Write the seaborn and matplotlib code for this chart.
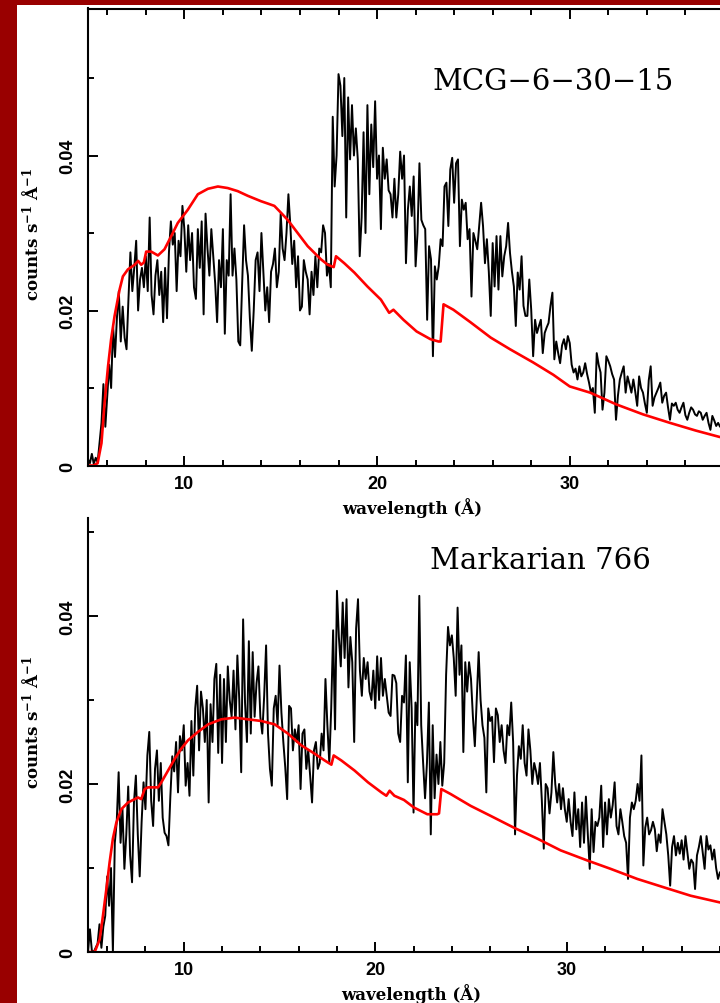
import numpy as np
import matplotlib
matplotlib.use("Agg")
import matplotlib.pyplot as plt
from matplotlib.patches import Rectangle
from matplotlib.ticker import MultipleLocator, FixedLocator, FuncFormatter
import seaborn as sns

# ---------------------------------------------------------------------------
# MCG-6-30-15: RGS count spectrum, 0.1 A bins starting at 5.0 A
# ---------------------------------------------------------------------------
mcg_start, mcg_bin = 5.0, 0.1
mcg_counts = [
    0.0008, 0.0003, 0.0015, 0.0002, 0.0010, 0.0004, 0.0030, 0.0055, 0.0105, 0.0050,
    0.0090, 0.0130, 0.0100, 0.0180, 0.0140, 0.0190, 0.0225, 0.0160, 0.0205, 0.0165,
    0.0150, 0.0215, 0.0275, 0.0225, 0.0255, 0.0290, 0.0200, 0.0240, 0.0255, 0.0230,
    0.0270, 0.0225, 0.0320, 0.0220, 0.0195, 0.0245, 0.0265, 0.0220, 0.0250, 0.0185,
    0.0255, 0.0190, 0.0275, 0.0315, 0.0285, 0.0300, 0.0225, 0.0290, 0.0270, 0.0335,
    0.0305, 0.0250, 0.0310, 0.0265, 0.0300, 0.0230, 0.0215, 0.0305, 0.0255, 0.0315,
    0.0195, 0.0325, 0.0280, 0.0245, 0.0305, 0.0270, 0.0235, 0.0185, 0.0265, 0.0230,
    0.0305, 0.0170, 0.0265, 0.0245, 0.0350, 0.0245, 0.0280, 0.0240, 0.0160, 0.0155,
    0.0235, 0.0310, 0.0265, 0.0245, 0.0190, 0.0148, 0.0200, 0.0265, 0.0275, 0.0225,
    0.0300, 0.0250, 0.0200, 0.0230, 0.0185, 0.0250, 0.0260, 0.0280, 0.0230, 0.0250,
    0.0325, 0.0280, 0.0265, 0.0300, 0.0350, 0.0310, 0.0260, 0.0290, 0.0230, 0.0270,
    0.0200, 0.0205, 0.0265, 0.0250, 0.0240, 0.0195, 0.0250, 0.0220, 0.0270, 0.0230,
    0.0280, 0.0275, 0.0310, 0.0300, 0.0245, 0.0260, 0.0230, 0.0450, 0.0360, 0.0400,
    0.0505, 0.0490, 0.0425, 0.0500, 0.0320, 0.0475, 0.0395, 0.0465, 0.0400, 0.0435,
    0.0395, 0.0270, 0.0320, 0.0430, 0.0300, 0.0465, 0.0350, 0.0440, 0.0385, 0.0470,
    0.0370, 0.0400, 0.0305, 0.0410, 0.0370, 0.0395, 0.0355, 0.0350, 0.0320, 0.0370,
    0.0320, 0.0350, 0.0405, 0.0370, 0.0400, 0.0261, 0.0330, 0.0360, 0.0322, 0.0373,
    0.0257, 0.0300, 0.0390, 0.0317, 0.0310, 0.0305, 0.0188, 0.0283, 0.0266, 0.0141,
    0.0257, 0.0240, 0.0257, 0.0292, 0.0283, 0.0360, 0.0365, 0.0309, 0.0382, 0.0397,
    0.0339, 0.0390, 0.0395, 0.0283, 0.0343, 0.0330, 0.0339, 0.0292, 0.0305, 0.0218,
    0.0300, 0.0290, 0.0279, 0.0309, 0.0339, 0.0309, 0.0261, 0.0292, 0.0250, 0.0193,
    0.0287, 0.0231, 0.0296, 0.0227, 0.0296, 0.0244, 0.0270, 0.0283, 0.0313, 0.0274,
    0.0250, 0.0231, 0.0180, 0.0249, 0.0227, 0.0270, 0.0206, 0.0193, 0.0193, 0.0240,
    0.0201, 0.0141, 0.0188, 0.0171, 0.0180, 0.0188, 0.0145, 0.0171, 0.0178, 0.0184,
    0.0206, 0.0223, 0.0137, 0.0160, 0.0145, 0.0132, 0.0155, 0.0163, 0.0150, 0.0167,
    0.0158, 0.0130, 0.0120, 0.0125, 0.0111, 0.0128, 0.0115, 0.0120, 0.0132, 0.0118,
    0.0107, 0.0094, 0.0100, 0.0068, 0.0145, 0.0130, 0.0120, 0.0072, 0.0094, 0.0141,
    0.0135, 0.0128, 0.0118, 0.0111, 0.0059, 0.0090, 0.0111, 0.0120, 0.0128, 0.0094,
    0.0115, 0.0105, 0.0094, 0.0111, 0.0095, 0.0077, 0.0115, 0.0100, 0.0094, 0.0080,
    0.0068, 0.0110, 0.0128, 0.0077, 0.0088, 0.0094, 0.0100, 0.0107, 0.0081, 0.0090,
    0.0094, 0.0075, 0.0059, 0.0080, 0.0077, 0.0081, 0.0072, 0.0068, 0.0075, 0.0081,
    0.0065, 0.0059, 0.0068, 0.0075, 0.0072, 0.0066, 0.0064, 0.0070, 0.0068, 0.0059,
    0.0064, 0.0068, 0.0055, 0.0046, 0.0064, 0.0058, 0.0051, 0.0055, 0.0050,
]

# Continuum model folded through the instrument response
mcg_model_wave = [
    5.0, 5.3, 5.5, 5.7, 5.86, 6.04, 6.2, 6.38, 6.64, 6.81, 7.07, 7.42, 7.6, 7.76,
    7.9, 8.02, 8.28, 8.63, 8.97, 9.32, 9.66, 10.18, 10.7, 11.22, 11.74, 12.25,
    12.77, 13.29, 13.98, 14.33, 14.67, 15.02, 15.36, 15.88, 16.4, 17.09, 17.44,
    17.75, 17.87, 18.3, 18.82, 19.5, 20.2, 20.63, 20.85, 21.37, 22.05, 22.77,
    23.19, 23.3, 23.45, 23.96, 24.84, 25.9, 26.9, 28.1, 29.15, 30.0, 31.06, 32.4,
    33.8, 35.2, 36.55, 37.75, 38.5,
]
mcg_model_counts = [
    0.0, 0.0, 0.0003, 0.0029, 0.0081, 0.0128, 0.0163, 0.0193, 0.0227, 0.0244,
    0.0253, 0.0259, 0.0264, 0.0259, 0.0262, 0.0276, 0.0276, 0.0271, 0.0279, 0.0296,
    0.0313, 0.0330, 0.0350, 0.0357, 0.0360, 0.0358, 0.0354, 0.0348, 0.0341, 0.0338,
    0.0335, 0.0326, 0.0317, 0.0300, 0.0283, 0.0266, 0.0259, 0.0256, 0.0270, 0.0261,
    0.0249, 0.0231, 0.0214, 0.0197, 0.0201, 0.0188, 0.0173, 0.0163, 0.0160, 0.0160,
    0.0208, 0.0201, 0.0185, 0.0165, 0.0150, 0.0133, 0.0117, 0.0102, 0.0094, 0.0079,
    0.0066, 0.0055, 0.0045, 0.0037, 0.0033,
]

# ---------------------------------------------------------------------------
# Markarian 766: RGS count spectrum, 0.1 A bins starting at 5.0 A
# ---------------------------------------------------------------------------
mrk_start, mrk_bin = 5.0, 0.1
mrk_counts = [
    0.0000, 0.0027, 0.0002, 0.0000, 0.0005, 0.0010, 0.0033, 0.0005, 0.0030, 0.0043,
    0.0090, 0.0055, 0.0100, 0.0000, 0.0130, 0.0155, 0.0214, 0.0130, 0.0170, 0.0099,
    0.0140, 0.0197, 0.0115, 0.0083, 0.0178, 0.0210, 0.0140, 0.0090, 0.0155, 0.0202,
    0.0170, 0.0234, 0.0262, 0.0180, 0.0150, 0.0218, 0.0240, 0.0180, 0.0225, 0.0160,
    0.0142, 0.0138, 0.0127, 0.0185, 0.0233, 0.0215, 0.0250, 0.0190, 0.0257, 0.0240,
    0.0270, 0.0198, 0.0225, 0.0186, 0.0275, 0.0210, 0.0290, 0.0317, 0.0240, 0.0310,
    0.0290, 0.0250, 0.0300, 0.0178, 0.0295, 0.0250, 0.0325, 0.0343, 0.0237, 0.0330,
    0.0225, 0.0325, 0.0250, 0.0340, 0.0300, 0.0280, 0.0335, 0.0265, 0.0353, 0.0300,
    0.0214, 0.0396, 0.0297, 0.0250, 0.0370, 0.0260, 0.0357, 0.0280, 0.0320, 0.0340,
    0.0280, 0.0260, 0.0305, 0.0365, 0.0260, 0.0218, 0.0198, 0.0290, 0.0305, 0.0270,
    0.0341, 0.0285, 0.0250, 0.0220, 0.0182, 0.0293, 0.0290, 0.0240, 0.0265, 0.0250,
    0.0270, 0.0194, 0.0260, 0.0265, 0.0218, 0.0240, 0.0210, 0.0178, 0.0240, 0.0250,
    0.0218, 0.0225, 0.0260, 0.0240, 0.0325, 0.0270, 0.0225, 0.0290, 0.0383, 0.0265,
    0.0430, 0.0375, 0.0340, 0.0416, 0.0350, 0.0420, 0.0315, 0.0375, 0.0345, 0.0250,
    0.0385, 0.0420, 0.0335, 0.0305, 0.0350, 0.0325, 0.0345, 0.0310, 0.0300, 0.0335,
    0.0290, 0.0352, 0.0300, 0.0350, 0.0305, 0.0325, 0.0305, 0.0285, 0.0281, 0.0330,
    0.0329, 0.0320, 0.0260, 0.0250, 0.0305, 0.0297, 0.0353, 0.0202, 0.0345, 0.0290,
    0.0166, 0.0297, 0.0270, 0.0424, 0.0270, 0.0225, 0.0183, 0.0225, 0.0297, 0.0140,
    0.0270, 0.0183, 0.0235, 0.0200, 0.0250, 0.0198, 0.0225, 0.0330, 0.0387, 0.0365,
    0.0377, 0.0350, 0.0305, 0.0410, 0.0330, 0.0365, 0.0238, 0.0345, 0.0310, 0.0345,
    0.0325, 0.0280, 0.0245, 0.0300, 0.0357, 0.0300, 0.0270, 0.0255, 0.0190, 0.0290,
    0.0275, 0.0280, 0.0226, 0.0290, 0.0282, 0.0250, 0.0270, 0.0240, 0.0225, 0.0270,
    0.0258, 0.0297, 0.0250, 0.0140, 0.0210, 0.0245, 0.0230, 0.0270, 0.0225, 0.0210,
    0.0265, 0.0240, 0.0200, 0.0225, 0.0215, 0.0200, 0.0225, 0.0180, 0.0123, 0.0200,
    0.0195, 0.0165, 0.0190, 0.0238, 0.0200, 0.0178, 0.0200, 0.0170, 0.0195, 0.0170,
    0.0155, 0.0182, 0.0155, 0.0138, 0.0190, 0.0146, 0.0170, 0.0125, 0.0178, 0.0130,
    0.0185, 0.0140, 0.0099, 0.0170, 0.0119, 0.0155, 0.0150, 0.0160, 0.0198, 0.0125,
    0.0178, 0.0140, 0.0182, 0.0160, 0.0175, 0.0202, 0.0150, 0.0140, 0.0170, 0.0155,
    0.0138, 0.0130, 0.0087, 0.0160, 0.0178, 0.0170, 0.0180, 0.0200, 0.0180, 0.0234,
    0.0103, 0.0148, 0.0160, 0.0140, 0.0145, 0.0155, 0.0146, 0.0120, 0.0140, 0.0130,
    0.0170, 0.0155, 0.0140, 0.0115, 0.0079, 0.0125, 0.0138, 0.0115, 0.0130, 0.0117,
    0.0133, 0.0110, 0.0138, 0.0118, 0.0099, 0.0110, 0.0106, 0.0075, 0.0115, 0.0125,
    0.0138, 0.0118, 0.0099, 0.0138, 0.0122, 0.0127, 0.0110, 0.0122, 0.0100, 0.0087,
    0.0095,
]

mrk_model_wave = [
    5.0, 5.35, 5.61, 5.78, 5.96, 6.13, 6.3, 6.48, 6.74, 7.09, 7.44, 7.61, 7.78,
    7.96, 8.13, 8.48, 8.66, 8.83, 9.18, 9.53, 9.87, 10.22, 10.74, 11.27, 11.96,
    12.66, 13.36, 14.05, 14.75, 15.44, 16.14, 16.84, 17.36, 17.71, 17.83, 18.23,
    18.92, 19.62, 20.32, 20.58, 20.75, 21.0, 21.5, 22.02, 22.72, 23.24, 23.33,
    23.45, 23.94, 24.98, 26.03, 27.24, 28.46, 29.68, 31.07, 32.29, 33.68, 35.07,
    36.47, 38.0, 38.5,
]
mrk_model_counts = [
    0.0, 0.0, 0.0015, 0.0043, 0.0075, 0.0107, 0.0135, 0.0154, 0.0170, 0.0178,
    0.0182, 0.0184, 0.0182, 0.0194, 0.0196, 0.0196, 0.0196, 0.0202, 0.0216, 0.0230,
    0.0242, 0.0252, 0.0262, 0.0271, 0.0277, 0.0279, 0.0277, 0.0275, 0.0271, 0.0260,
    0.0246, 0.0236, 0.0228, 0.0223, 0.0234, 0.0228, 0.0216, 0.0202, 0.0190, 0.0186,
    0.0192, 0.0186, 0.0181, 0.0172, 0.0164, 0.0164, 0.0165, 0.0194, 0.0188, 0.0174,
    0.0162, 0.0148, 0.0135, 0.0121, 0.0109, 0.0099, 0.0087, 0.0077, 0.0067, 0.0059,
    0.0057,
]

source_names = ["MCG\u22126\u221230\u221215", "Markarian 766"]
wave_ticks = [10, 20, 30]
x_label = "wavelength (\u00c5)"
y_label = "counts s$^{\\mathbf{-1}}$ \u00c5$^{\\mathbf{-1}}$"

# ---------------------------------------------------------------------------
sns.set_theme(style="ticks")
plt.rcParams.update({
    "font.family": ["Liberation Sans", "DejaVu Sans"],
    "font.weight": "bold",
    "mathtext.fontset": "custom",
    "mathtext.rm": "DejaVu Serif:bold",
    "mathtext.bf": "DejaVu Serif:bold",
    "mathtext.it": "DejaVu Serif:bold",
    "axes.linewidth": 1.5,
    "axes.edgecolor": "black",
    "axes.labelcolor": "black",
    "text.color": "black",
    "xtick.color": "black",
    "ytick.color": "black",
    "xtick.labelcolor": "black",
    "ytick.labelcolor": "black",
})

W, H = 720, 1004
fig = plt.figure(figsize=(W / 100, H / 100), dpi=100, facecolor="#990000")
# white page inside the dark frame
fig.patches.append(Rectangle((17 / W, 0), 1, (H - 6) / H, transform=fig.transFigure,
                             facecolor="white", edgecolor="none", zorder=-5))


def px_axes(left, top, bottom, right):
    return fig.add_axes([left / W, 1 - bottom / H, (right - left) / W, (bottom - top) / H])


ax_top = px_axes(88, 9.5, 466.5, 88 + 35 * 19.27)
ax_bot = px_axes(88, 519, 953, 88 + 35 * 19.15)

panels = [
    (ax_top, mcg_start, mcg_bin, mcg_counts, mcg_model_wave, mcg_model_counts,
     (0, (466.5 - 9.5) / 7750.0), True),
    (ax_bot, mrk_start, mrk_bin, mrk_counts, mrk_model_wave, mrk_model_counts,
     (0, (953 - 519) / 8400.0), False),
]

yfmt = FuncFormatter(lambda v, p: "0" if abs(v) < 1e-12 else f"{v:.2f}")

for ax, start, step, counts, mw, mc, ylim, show_top in panels:
    wave = np.round(start + step * np.arange(len(counts)), 2)
    ax.set_facecolor("white")
    sns.lineplot(x=wave, y=counts, ax=ax, color="black", linewidth=1.4,
                 estimator=None, sort=False)
    sns.lineplot(x=mw, y=mc, ax=ax, color="#ff0000", linewidth=1.9,
                 estimator=None, sort=False)

    ax.set_xlim(5, 40)
    ax.set_ylim(*ylim)
    ax.xaxis.set_major_locator(FixedLocator(wave_ticks))
    ax.xaxis.set_minor_locator(MultipleLocator(2))
    ax.yaxis.set_major_locator(MultipleLocator(0.02))
    ax.yaxis.set_minor_locator(MultipleLocator(0.01))
    ax.yaxis.set_major_formatter(yfmt)

    ax.spines["right"].set_visible(False)
    ax.spines["top"].set_visible(show_top)
    ax.tick_params(which="both", direction="in", width=1.4, color="black",
                   top=show_top, right=False, left=True, bottom=True)
    ax.tick_params(which="major", length=7.5)
    ax.tick_params(which="minor", length=4)
    ax.tick_params(axis="x", which="major", labelsize=13, pad=6.5)
    ax.tick_params(axis="y", which="major", labelsize=13, pad=8.5, labelrotation=90)
    for lab in ax.get_xticklabels() + ax.get_yticklabels():
        lab.set_fontweight("bold")
        lab.set_color("black")
    for lab in ax.get_yticklabels():
        lab.set_va("center")

    ax.set_xlabel(x_label, fontfamily="DejaVu Serif", fontweight="bold",
                  fontsize=12, color="black")
    ax.set_ylabel(y_label, fontfamily="DejaVu Serif", fontweight="bold",
                  fontsize=12, color="black")

ax_top.xaxis.set_label_coords(412 / W, 1 - 498 / H, transform=fig.transFigure)
ax_bot.xaxis.set_label_coords(411 / W, 1 - 984 / H, transform=fig.transFigure)
ax_top.yaxis.set_label_coords(43 / W, 1 - 234 / H, transform=fig.transFigure)
ax_bot.yaxis.set_label_coords(43 / W, 1 - 722 / H, transform=fig.transFigure)

fig.text(433 / W, 1 - 90 / H, source_names[0], fontfamily="DejaVu Serif",
         fontweight="normal", fontsize=21, ha="left", va="baseline", color="black")
fig.text(430 / W, 1 - 569 / H, source_names[1], fontfamily="DejaVu Serif",
         fontweight="normal", fontsize=21, ha="left", va="baseline", color="black")

fig.savefig("out.png", dpi=100, facecolor=fig.get_facecolor())
